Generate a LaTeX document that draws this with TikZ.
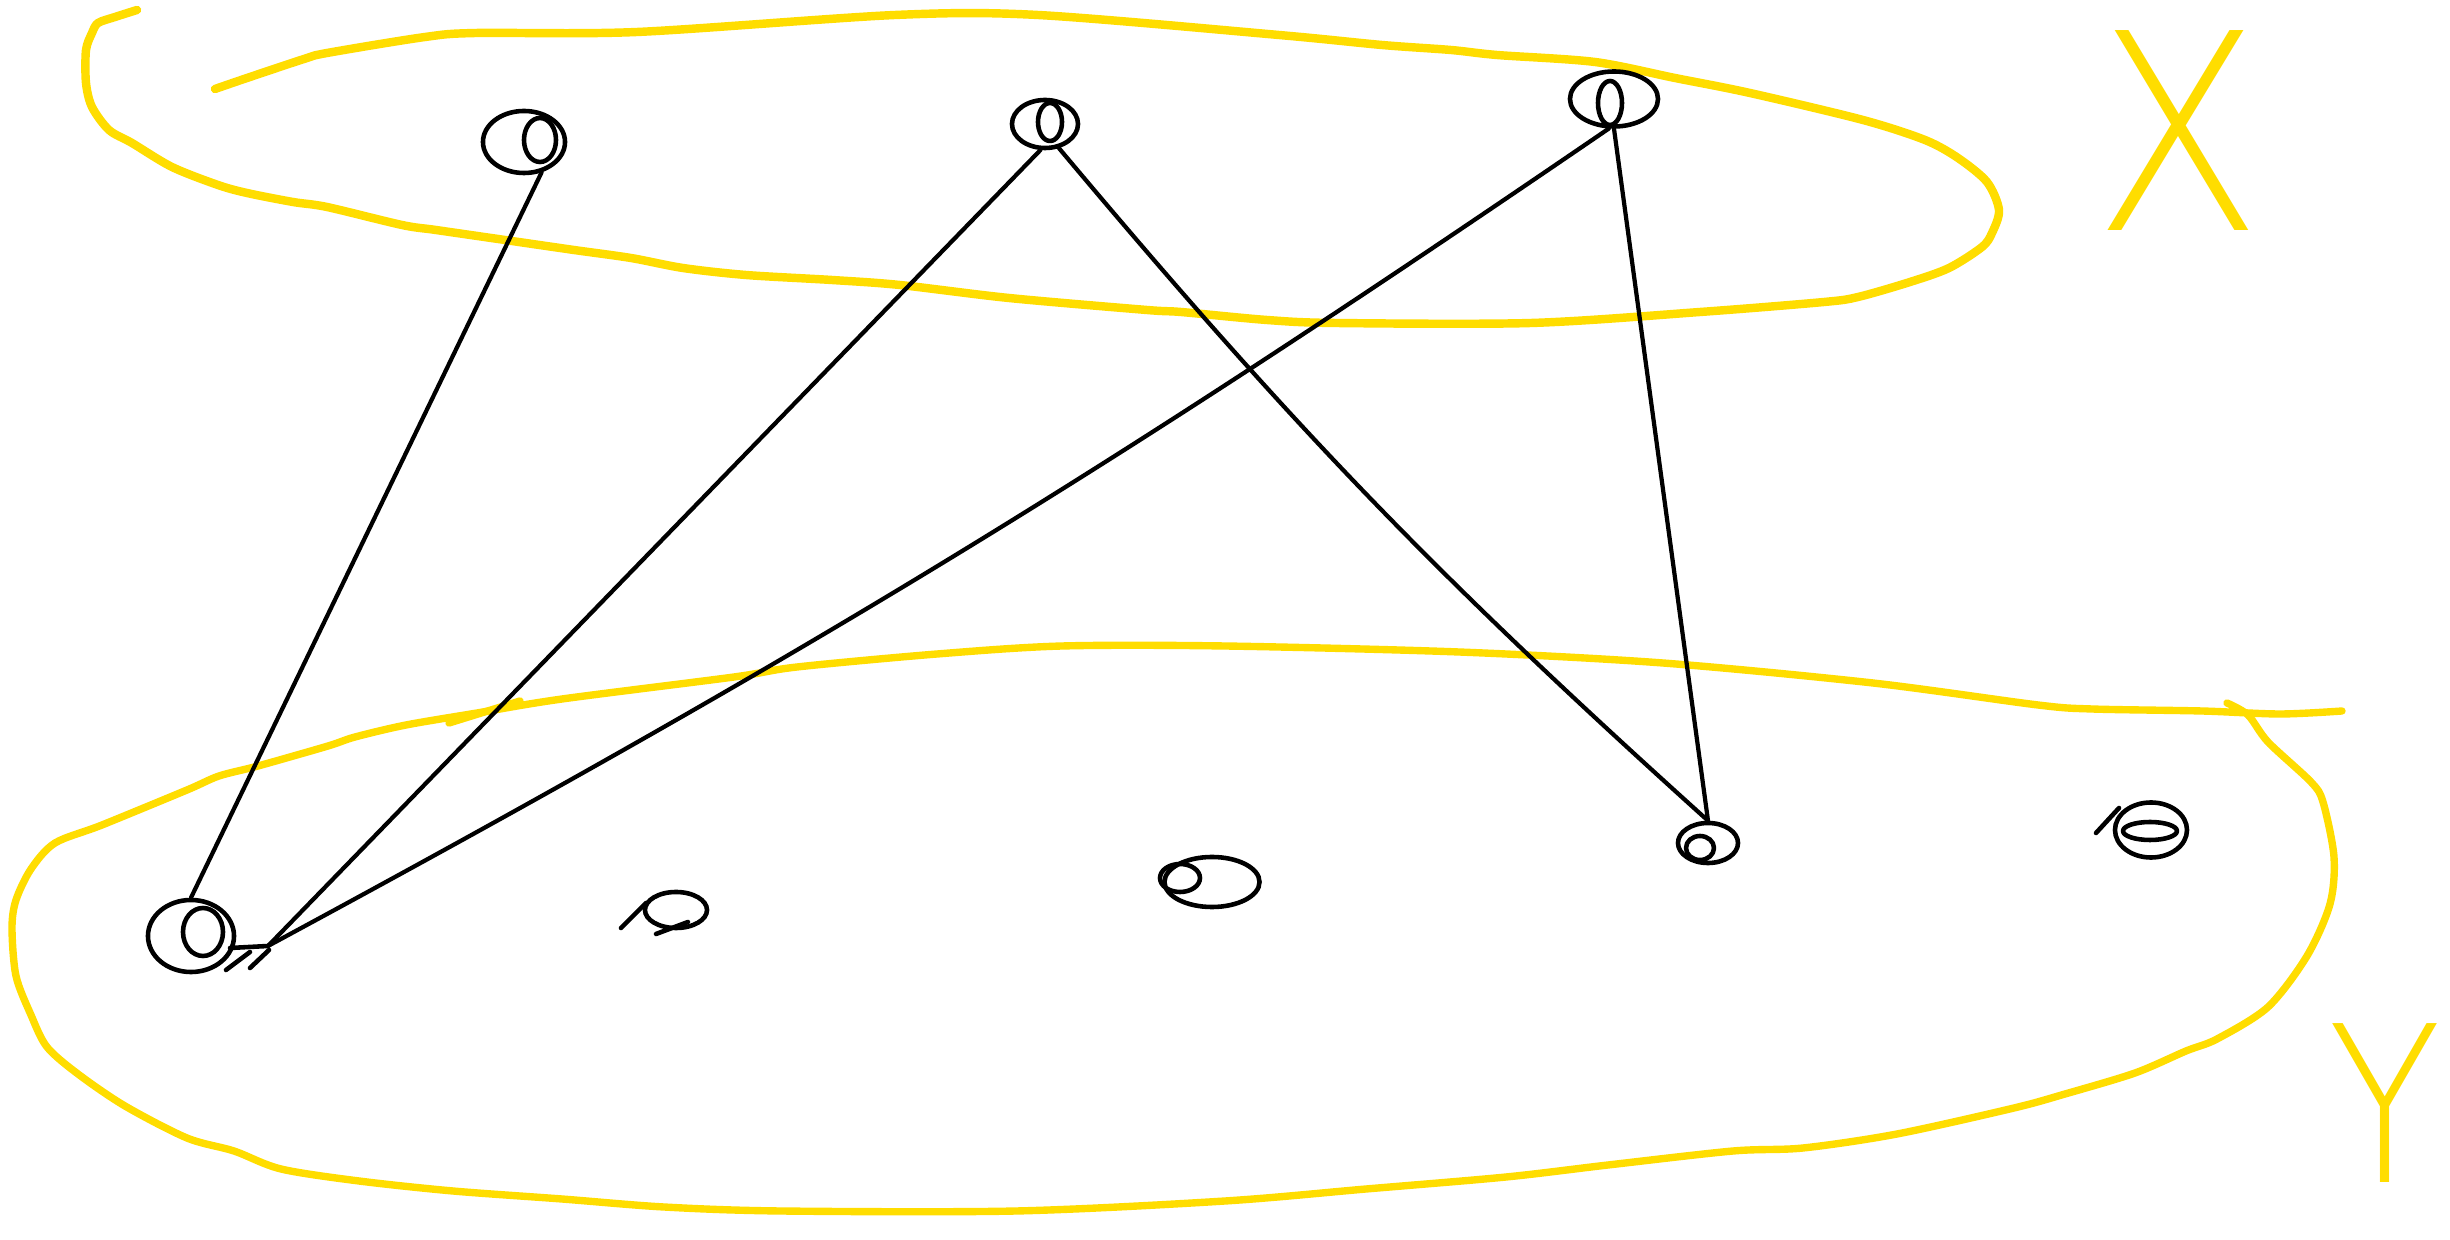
\documentclass[tikz,border=0pt]{standalone}
\usepackage{fontspec}
\usetikzlibrary{shapes.geometric}
\newfontfamily\thinfont{DejaVu Sans ExtraLight}
\definecolor{setyellow}{RGB}{255,221,0}
\begin{document}
\begin{tikzpicture}[x=0.01cm,y=-0.01cm,
  setline/.style={draw=setyellow,line width=2.1pt,line cap=round,line join=round},
  edge/.style={draw=black,line width=1.2pt,line cap=round},
  scrib/.style={draw=black,line width=1.3pt,line cap=round,line join=round},
  vtx/.style={ellipse,draw=black,line width=1.3pt,inner sep=0pt},
  lbl/.style={text=setyellow,font=\thinfont\fontsize{78}{78}\selectfont,inner sep=0pt}]
\fill[white] (0,0) rectangle (2450,1240);
\useasboundingbox (0,0) rectangle (2450,1240);

% set X outline
\draw[setline,line width=2.4pt] plot[smooth,tension=0.5] coordinates {
(215,89) (247,78) (304,59) (327,53) (425,37) (476,33) (637,32) (895,15) (1038,15)
(1279,35) (1382,45) (1451,50) (1497,55) (1595,62) (1675,78) (1750,93) (1863,120)
(1925,140) (1958,158) (1987,182) (1999,210) (1992,233) (1982,247) (1949,268)
(1910,282) (1858,297) (1824,302) (1700,312) (1531,323) (1336,323) (1267,320)
(1181,312) (1147,310) (1009,298) (900,285) (832,280) (746,275) (683,268) (631,258)
(574,250) (505,240) (436,230) (402,225) (327,207) (293,202) (247,193) (218,185)
(172,167) (132,143) (109,130) (92,107) (86,83) (86,50) (92,33) (98,23) (115,17) (137,10)};

% set Y outline
\draw[setline] plot[smooth,tension=0.5] coordinates {
(2227,703) (2248,715) (2268,742) (2311,782) (2323,802) (2334,857) (2330,904)
(2307,956) (2268,1007) (2217,1039) (2186,1051) (2135,1073) (2065,1094) (2014,1108)
(1897,1134) (1803,1148) (1733,1151) (1608,1165) (1506,1177) (1366,1189) (1225,1201)
(1016,1211) (781,1211) (664,1207) (562,1199) (453,1191) (359,1181) (281,1169)
(234,1151) (187,1138) (125,1106) (78,1074) (47,1047) (31,1015) (16,976) (12,928)
(16,900) (31,869) (55,843) (102,825) (187,790) (219,776) (258,766) (328,746)
(355,737) (406,725) (477,713) (562,699) (734,677) (797,667) (937,654) (1062,646)
(1225,646) (1459,652) (1663,663) (1873,683) (2038,705) (2092,709) (2202,711)
(2280,714) (2342,711)};
\draw[setline] (449,723) -- (520,701);

% set labels
\node[lbl,xscale=0.9] (labX) at (2178,131) {X};
\node[lbl,xscale=0.85,anchor=base,font=\thinfont\fontsize{62}{62}\selectfont] (labY) at (2385,1183) {Y};

% vertices
\node[vtx,minimum width=0.82cm,minimum height=0.62cm] (a1) at (524,142) {};
\node[vtx,minimum width=0.66cm,minimum height=0.48cm] (a2) at (1045,124) {};
\node[vtx,minimum width=0.88cm,minimum height=0.55cm] (a3) at (1614,99) {};
\node[vtx,minimum width=0.86cm,minimum height=0.72cm] (b1) at (191,936) {};
\node[vtx,minimum width=0.62cm,minimum height=0.36cm] (b2) at (676,910) {};
\node[vtx,minimum width=0.95cm,minimum height=0.5cm] (b3) at (1212,882) {};
\node[vtx,minimum width=0.6cm,minimum height=0.4cm] (b4) at (1708,843) {};
\node[vtx,minimum width=0.72cm,minimum height=0.55cm] (b5) at (2151,830) {};
\coordinate (b1hub) at (268,946);

% inner scribbles of the vertices
\draw[scrib] (540,140) ellipse (16 and 22);
\draw[scrib] (1050,122) ellipse (12 and 19);
\draw[scrib] (1610,103) ellipse (12 and 22);
\draw[scrib] (203,932) ellipse (20 and 24);
\draw[scrib] (230,948) -- (b1hub);
\draw[scrib] (226,970) -- (250,952);
\draw[scrib] (250,968) -- (269,950);
\draw[scrib] (621,928) -- (646,903);
\draw[scrib] (656,934) -- (688,922);
\draw[scrib] (1180,878) ellipse (20 and 14);
\draw[scrib] (1700,848) ellipse (14 and 12);
\draw[scrib] (2150,831) ellipse (27 and 9);
\draw[scrib] (2096,833) -- (2119,808);

% edges
\draw[edge] (a1.-60) -- (b1.north);
\draw[edge] (a2.-100) -- (b1hub);
\draw[edge] (a2.-60) to[bend right=4] (b4.north);
\draw[edge] (a3.-100) to[bend left=3] (b1hub);
\draw[edge] (a3.-90) -- (b4.north);
\end{tikzpicture}
\end{document}
